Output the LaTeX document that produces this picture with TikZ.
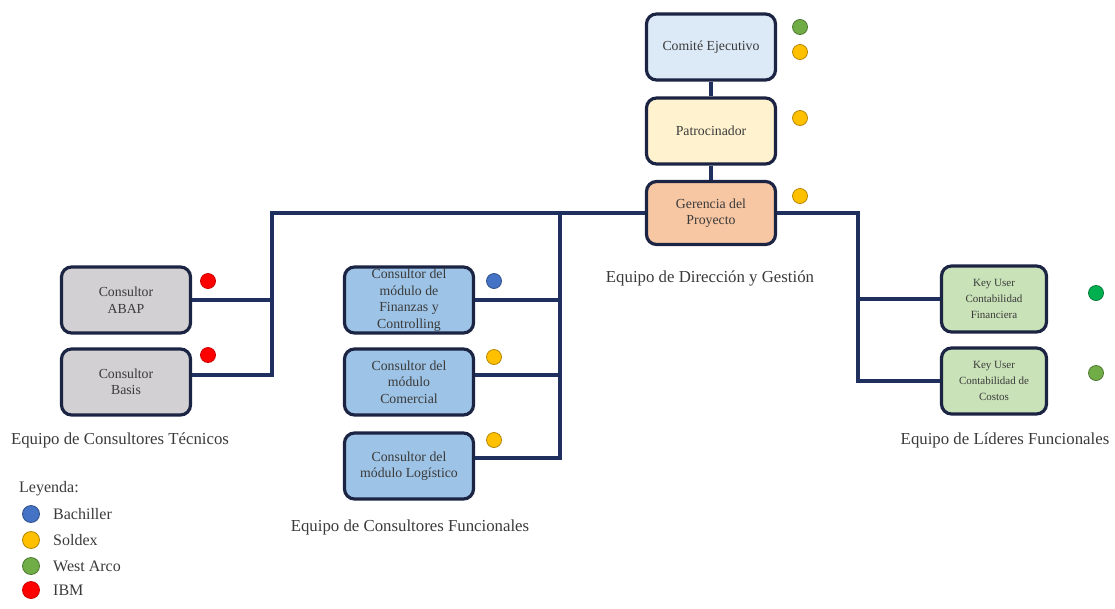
\documentclass[tikz,border=0pt]{standalone}
\usepackage{fontspec}
\setmainfont{Liberation Serif}
\begin{document}
\begin{tikzpicture}[x=1pt,y=-1pt,
  role/.style={draw=boxline, line width=3.2pt, rounded corners=10pt, inner sep=0pt,
    minimum width=129pt, minimum height=66pt, align=center,
    font=\fontsize{13.8}{16.5}\selectfont, text=textgray},
  keyrole/.style={role, minimum width=105pt, font=\fontsize{11}{16}\selectfont},
  link/.style={draw=linkblue, line width=3.2pt},
  team/.style={font=\fontsize{16.8}{19}\selectfont, text=textgray, inner sep=0pt},
  dot/.style={circle, inner sep=0pt, minimum size=15pt, line width=0.8pt},
  keydot/.style={dot, minimum size=17pt},
  keytext/.style={font=\fontsize{16}{18}\selectfont, text=textgray, anchor=west, inner sep=0pt}]

\definecolor{boxline}{HTML}{1C2444}
\definecolor{linkblue}{HTML}{1F2F5E}
\definecolor{textgray}{HTML}{3A3A3A}
\definecolor{fcomite}{HTML}{DCE9F6}
\definecolor{fpatro}{HTML}{FFF2CE}
\definecolor{fgeren}{HTML}{F7C6A3}
\definecolor{fgray}{HTML}{D2D0D2}
\definecolor{fblue}{HTML}{9DC3E6}
\definecolor{fgreen}{HTML}{C9E2B8}
\definecolor{cbach}{HTML}{4472C4}
\definecolor{csold}{HTML}{FFC000}
\definecolor{cwest}{HTML}{70AD47}
\definecolor{cwestd}{HTML}{00B050}
\definecolor{cibm}{HTML}{FF0000}

\useasboundingbox (0,0) rectangle (1115,608);

% Dirección y gestión
\node[role, fill=fcomite] (comite) at (711,47) {Comité Ejecutivo};
\node[role, fill=fpatro] (patro) at (711,131) {Patrocinador};
\node[role, fill=fgeren, minimum height=63pt] (geren) at (711,213) {Gerencia del\\Proyecto};

% Consultores técnicos
\node[role, fill=fgray] (abap) at (126,300) {Consultor\\ABAP};
\node[role, fill=fgray] (basis) at (126,382) {Consultor\\Basis};

% Consultores funcionales
\node[role, fill=fblue] (fico) at (409,300) {Consultor del\\módulo de\\Finanzas y\\Controlling};
\node[role, fill=fblue] (sd) at (409,382) {Consultor del\\módulo\\Comercial};
\node[role, fill=fblue] (mm) at (409,466) {Consultor del\\módulo Logístico};

% Líderes funcionales
\node[keyrole, fill=fgreen] (kufin) at (994,299) {Key User\\Contabilidad\\Financiera};
\node[keyrole, fill=fgreen] (kucos) at (994,381) {Key User\\Contabilidad de\\Costos};

% Junction columns and branch points
\coordinate (tcol) at (272,213);
\coordinate (fcol) at (560,213);
\coordinate (lcol) at (858,213);
\coordinate (basisb) at ([yshift=7pt]basis.east);
\coordinate (sdb) at ([yshift=7pt]sd.east);
\coordinate (mmb) at ([yshift=8pt]mm.east);

% Connectors
\draw[link] (comite) -- (patro);
\draw[link] (patro) -- (geren);
\draw[link] (geren.west) -- (tcol) |- (basisb);
\draw[link] (tcol |- abap.east) -- (abap.east);
\draw[link] (fcol) |- (mmb);
\draw[link] (fcol |- fico.east) -- (fico.east);
\draw[link] (fcol |- sdb) -- (sdb);
\draw[link] (geren.east) -- (lcol) |- (kucos.west);
\draw[link] (lcol |- kufin.west) -- (kufin.west);

% Company markers
\node[dot, fill=cwest, draw=cwest!70!black] (m1) at (800,27) {};
\node[dot, fill=csold, draw=csold!70!black] (m2) at (800,52) {};
\node[dot, fill=csold, draw=csold!70!black] (m3) at (800,118) {};
\node[dot, fill=csold, draw=csold!70!black] (m4) at (800,196) {};
\node[dot, fill=cibm, draw=cibm!80!black] (m5) at (208,281) {};
\node[dot, fill=cibm, draw=cibm!80!black] (m6) at (208,355) {};
\node[dot, fill=cbach, draw=cbach!70!black] (m7) at (494,281) {};
\node[dot, fill=csold, draw=csold!70!black] (m8) at (494,357) {};
\node[dot, fill=csold, draw=csold!70!black] (m9) at (494,440) {};
\node[dot, fill=cwestd, draw=cwestd!70!black] (m10) at (1096,293) {};
\node[dot, fill=cwest, draw=cwest!70!black] (m11) at (1096,373) {};

% Team labels
\node[team] (tdir) at (710,278) {Equipo de Dirección y Gestión};
\node[team] (ttec) at (120,440) {Equipo de Consultores Técnicos};
\node[team] (tfun) at (410,527) {Equipo de Consultores Funcionales};
\node[team] (tlid) at (1005,440) {Equipo de Líderes Funcionales};

% Legend
\node[keytext] (leg) at (19,489) {Leyenda:};
\node[keydot, fill=cbach, draw=cbach!70!black] (l1) at (31,514) {};
\node[keydot, fill=csold, draw=csold!70!black] (l2) at (31,540) {};
\node[keydot, fill=cwest, draw=cwest!70!black] (l3) at (31,566) {};
\node[keydot, fill=cibm, draw=cibm!80!black] (l4) at (31,590) {};
\node[keytext] (t1) at (53,514) {Bachiller};
\node[keytext] (t2) at (53,540) {Soldex};
\node[keytext] (t3) at (53,566) {West Arco};
\node[keytext] (t4) at (53,590) {IBM};
\end{tikzpicture}
\end{document}
